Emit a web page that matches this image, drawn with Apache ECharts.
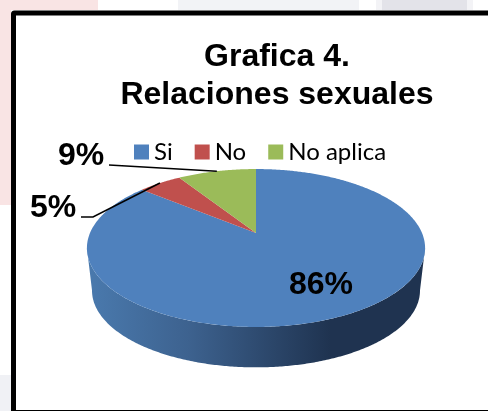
<!DOCTYPE html>
<html>
<head>
<meta charset="utf-8">
<style>
html, body { margin: 0; padding: 0; background: #fff; }
#main { width: 488px; height: 411px; }
</style>
<script src="https://cdn.jsdelivr.net/npm/echarts@6/dist/echarts.min.js"></script>
</head>
<body>
<div id="main"></div>
<script>
const categories = ['Si', 'No', 'No aplica'];
const percents = [86, 5, 9];
const colors = ['#4f81bd', '#c0504d', '#9bbb59'];

const total = percents.reduce((a, b) => a + b, 0);
const BOLD = 'bold 32px "Liberation Sans", Arial, sans-serif';

// the disc is tilted: the pie centre sits above the middle of the ellipse
const K = 0.19;
const top_ = { cx: 256, cy: 233, a: 166, b: 76.1 };
const bottom = { cx: 256, cy: 276, a: 161, b: 74 };

function project(disc, angle) {
    const u = Math.sin(angle);
    const v = Math.cos(angle);
    const w = 1 + K * v;
    return [disc.cx + disc.a * u / w, disc.cy - disc.b * v / w];
}

function arcPoints(disc, from, to) {
    const pts = [];
    const n = Math.max(2, Math.ceil(Math.abs(to - from) / 0.01));
    for (let i = 0; i <= n; i++) {
        pts.push(project(disc, from + (to - from) * i / n));
    }
    return pts;
}

// angles go clockwise from 12 o'clock, each share starts where the last ended
function sliceAngles(index) {
    let before = 0;
    for (let i = 0; i < index; i++) before += percents[i];
    return [before / total * 2 * Math.PI, (before + percents[index]) / total * 2 * Math.PI];
}

// visible front wall runs between the two widest points of the rim
const WALL_FROM = Math.PI - Math.acos(K);
const WALL_TO = Math.PI + Math.acos(K);

const labels = {
    0: { x: 321, y: 285 },
    1: { x: 53, y: 208, elbow: [[81, 217], [93, 217]] },
    2: { x: 81, y: 156, elbow: [[109, 165]] }
};

function renderSlice(index) {
    return function (params, api) {
        const [from, to] = sliceAngles(index);
        const color = api.visual('color');
        const children = [];

        const wallFrom = Math.max(from, WALL_FROM);
        const wallTo = Math.min(to, WALL_TO);
        if (wallTo > wallFrom) {
            const wall = arcPoints(top_, wallFrom, wallTo)
                .concat(arcPoints(bottom, wallTo, wallFrom));
            children.push({
                type: 'polygon',
                shape: { points: wall },
                style: {
                    fill: new echarts.graphic.LinearGradient(0, 0, 1, 0, [
                        { offset: 0, color: '#4a7aae' },
                        { offset: 0.3, color: '#3d628f' },
                        { offset: 0.72, color: '#1f3350' },
                        { offset: 1, color: '#1f3350' }
                    ])
                }
            });
        }

        children.push({
            type: 'polygon',
            shape: { points: [[top_.cx, top_.cy]].concat(arcPoints(top_, from, to)) },
            style: { fill: color }
        });

        const label = labels[index];
        if (label.elbow) {
            const tip = project(top_, (from + to) / 2);
            children.push({
                type: 'polyline',
                shape: { points: label.elbow.concat([tip]) },
                style: { fill: null, stroke: '#000', lineWidth: 1.5 }
            });
        }
        children.push({
            type: 'text',
            style: {
                text: percents[index] + '%',
                x: label.x,
                y: label.y,
                font: BOLD,
                fill: '#000',
                align: 'center',
                verticalAlign: 'middle'
            }
        });
        return { type: 'group', children: children };
    };
}

const backdrop = [
    { x: 0, y: 0, w: 98, h: 10, fill: '#f9e4e4' },
    { x: 0, y: 0, w: 11, h: 205, fill: '#f9e4e4' },
    { x: 0, y: 375, w: 11, h: 36, fill: '#f0f1f5' },
    { x: 178, y: 0, w: 181, h: 10, fill: '#f2f3f6' },
    { x: 376, y: 0, w: 97, h: 10, fill: '#f3f3f6' },
    { x: 382, y: 0, w: 85, h: 10, fill: '#e3e3e9' }
];

const chart = echarts.init(document.getElementById('main'));
chart.setOption({
    animation: false,
    color: colors,
    title: {
        text: 'Grafica 4.\nRelaciones sexuales',
        left: 272,
        top: 33,
        textAlign: 'center',
        textStyle: {
            fontFamily: '"Liberation Sans", Arial, sans-serif',
            fontSize: 32,
            fontWeight: 'bold',
            color: '#000',
            lineHeight: 38
        }
    },
    legend: {
        data: categories,
        left: 129,
        top: 135,
        itemWidth: 15,
        itemHeight: 15,
        itemGap: 22,
        icon: 'rect',
        textStyle: { fontFamily: 'Lato, sans-serif', fontSize: 24, color: '#000' }
    },
    graphic: backdrop.map((b) => ({
        type: 'rect',
        silent: true,
        z: -10,
        shape: { x: b.x, y: b.y, width: b.w, height: b.h },
        style: { fill: b.fill }
    })).concat([{
        type: 'rect',
        silent: true,
        z: -9,
        shape: { x: 13.5, y: 13, width: 600, height: 399.5, r: 1 },
        style: { fill: '#fff', stroke: '#000', lineWidth: 5 }
    }]),
    series: categories.map((name, i) => ({
        name: name,
        type: 'custom',
        coordinateSystem: 'none',
        silent: true,
        data: [[percents[i]]],
        renderItem: renderSlice(i)
    }))
});
</script>
</body>
</html>
